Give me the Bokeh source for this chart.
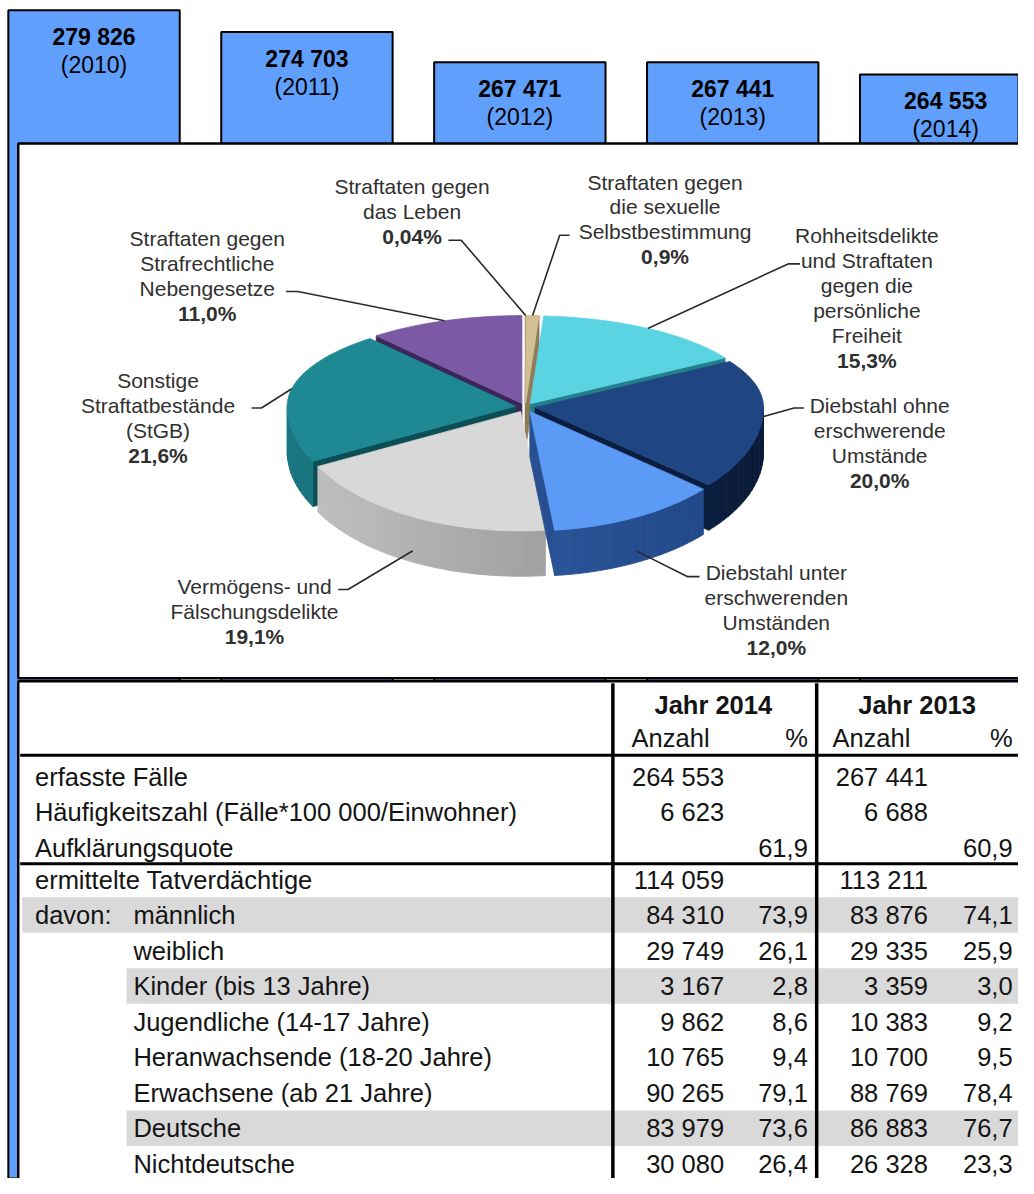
import math
from bokeh.plotting import figure
from bokeh.models import Range1d
from bokeh.core.properties import value
from bokeh.embed import file_html
from bokeh.resources import INLINE

# ---------------- data ----------------
years = [2010, 2011, 2012, 2013, 2014]
cases = [279826, 274703, 267471, 267441, 264553]

pie_names = [
    ["Straftaten gegen", "das Leben"],
    ["Straftaten gegen", "die sexuelle", "Selbstbestimmung"],
    ["Rohheitsdelikte", "und Straftaten", "gegen die", "persönliche", "Freiheit"],
    ["Diebstahl ohne", "erschwerende", "Umstände"],
    ["Diebstahl unter", "erschwerenden", "Umständen"],
    ["Vermögens- und", "Fälschungsdelikte"],
    ["Sonstige", "Straftatbestände", "(StGB)"],
    ["Straftaten gegen", "Strafrechtliche", "Nebengesetze"],
]
pie_shares = [0.04, 0.9, 15.3, 20.0, 12.0, 19.1, 21.6, 11.0]

table_years = ["Jahr 2014", "Jahr 2013"]
row_labels = ["erfasste Fälle", "Häufigkeitszahl (Fälle*100 000/Einwohner)", "Aufklärungsquote",
              "ermittelte Tatverdächtige", "männlich", "weiblich", "Kinder (bis 13 Jahre)",
              "Jugendliche (14-17 Jahre)", "Heranwachsende (18-20 Jahre)",
              "Erwachsene (ab 21 Jahre)", "Deutsche", "Nichtdeutsche"]
count_2014 = [264553, 6623, None, 114059, 84310, 29749, 3167, 9862, 10765, 90265, 83979, 30080]
pct_2014 = [None, None, 61.9, None, 73.9, 26.1, 2.8, 8.6, 9.4, 79.1, 73.6, 26.4]
count_2013 = [267441, 6688, None, 113211, 83876, 29335, 3359, 10383, 10700, 88769, 86883, 26328]
pct_2013 = [None, None, 60.9, None, 74.1, 25.9, 3.0, 9.2, 9.5, 78.4, 76.7, 23.3]


def fmt_int(v):
    return "" if v is None else f"{v:,}".replace(",", " ")


def fmt_pct(v):
    return "" if v is None else f"{v:.1f}".replace(".", ",")


def fmt_share(v):
    return (f"{v:.2f}" if v < 0.1 else f"{v:.1f}").replace(".", ",") + "%"


# ---------------- layout / style ----------------
FONT = value("Liberation Sans")
X0, X1, Y0, Y1 = 0, 1034, 0, 1194
p = figure(width=1018, height=1178, x_range=Range1d(X0, X1), y_range=Range1d(Y1, Y0),
           output_backend="svg", toolbar_location=None, min_border=0,
           x_axis_location=None, y_axis_location=None, title=None)
p.grid.visible = False
p.outline_line_color = None
p.background_fill_color = "white"
p.border_fill_color = "white"

# bar chart scales (years across, case counts up)
BAR_SPACING, BAR_FIRST_CENTER, BAR_W = 216.25, 95.0, 0.805
PX_PER_CASE, TOP_PX = 0.004256, 10.0
yr0 = years[0] - (BAR_FIRST_CENTER - X0) / BAR_SPACING
p.extra_x_ranges = {"years": Range1d(yr0, yr0 + (X1 - X0) / BAR_SPACING)}
cmax = max(cases)
c_top = cmax + (TOP_PX - Y0) / PX_PER_CASE
c_bot = cmax - (Y1 - TOP_PX) / PX_PER_CASE
p.extra_y_ranges = {"cases": Range1d(c_bot, c_top)}

p.vbar(x=years, top=cases, bottom=c_bot, width=BAR_W, x_range_name="years", y_range_name="cases",
       fill_color="#619ffd", line_color="black", line_width=2)
p.text(x=years, y=cases, text=[fmt_int(c) for c in cases], x_range_name="years", y_range_name="cases",
       y_offset=27, text_font=FONT, text_font_size="23px", text_font_style="bold",
       text_align="center", text_baseline="middle", text_color="black")
p.text(x=years, y=cases, text=[f"({y})" for y in years], x_range_name="years", y_range_name="cases",
       y_offset=55, text_font=FONT, text_font_size="23px",
       text_align="center", text_baseline="middle", text_color="black")

# panels
p.quad(left=[18, 18], right=[1045, 1045], top=[145, 690], bottom=[687, 1205],
       fill_color="white", line_color="black", line_width=2.5)

# ---------------- 3D pie ----------------
CX, CY, RX, RYB, RYF, DEPTH, EXPL = 533, 412, 232, 89, 121, 46, 10
pie_colors = [  # top, wall light, wall dark, radial face
    ("#9c8a62", "#7a6b49", "#5f533a", "#5a4f36"),
    ("#d3bf95", "#b09c72", "#8f7d58", "#8f7d58"),
    ("#5ad3e3", "#34a3ae", "#23808a", "#23808a"),
    ("#1f4682", "#15356a", "#0a1a38", "#0b1e40"),
    ("#5b9bf6", "#3666b0", "#1f4584", "#274f91"),
    ("#d8d8d8", "#c2c2c2", "#858585", "#9a9a9a"),
    ("#1e8893", "#197680", "#0f5a62", "#0c4e55"),
    ("#7c59a4", "#553c7e", "#3f2a5f", "#3a2657"),
]


def ry(t):
    return RYB if math.cos(t) > 0 else RYF


def rim(ax, ay, t):
    return ax + RX * math.sin(t), ay - ry(t) * math.cos(t)


def mix(c1, c2, f):
    a = [int(c1[i:i + 2], 16) for i in (1, 3, 5)]
    b = [int(c2[i:i + 2], 16) for i in (1, 3, 5)]
    return "#%02x%02x%02x" % tuple(round(a[k] + (b[k] - a[k]) * f) for k in range(3))


total = sum(pie_shares)
spans = []
acc = 0.0
for s in pie_shares:
    d = s / total * 2 * math.pi
    spans.append((acc, acc + d))
    acc += d

info = []
for i, (a0, a1) in enumerate(spans):
    mid = (a0 + a1) / 2
    ax = CX + EXPL * math.sin(mid)
    ay = CY - EXPL * math.cos(mid) * ry(mid) / RX
    info.append((a0, a1, mid, ax, ay))

pxs, pys, pcol = [], [], []
order = sorted(range(len(spans)), key=lambda i: -math.cos(info[i][2]))
for i in order:
    a0, a1, mid, ax, ay = info[i]
    top_c, wl, wd, rc = pie_colors[i]
    # radial faces
    for a, vis in ((a0, math.sin(a0) < 0), (a1, math.sin(a1) > 0)):
        if vis:
            rx_, ry_ = rim(ax, ay, a)
            pxs.append([ax, rx_, rx_, ax])
            pys.append([ay, ry_, ry_ + DEPTH, ay + DEPTH])
            pcol.append(rc)
    # outer wall (front half only)
    lo, hi = max(a0, math.pi / 2), min(a1, 3 * math.pi / 2)
    if hi > lo:
        n = max(1, int((hi - lo) / math.radians(2)))
        for k in range(n):
            t1 = lo + (hi - lo) * k / n
            t2 = lo + (hi - lo) * (k + 1) / n
            x1, y1 = rim(ax, ay, t1)
            x2, y2 = rim(ax, ay, t2)
            pxs.append([x1, x2, x2, x1])
            pys.append([y1, y2, y2 + DEPTH, y1 + DEPTH])
            f = (math.sin((t1 + t2) / 2) + 1) / 2
            pcol.append(mix(wl, wd, f))
    # top face
    n = max(2, int((a1 - a0) / math.radians(1)) + 2)
    pts = [rim(ax, ay, a0 + (a1 - a0) * k / (n - 1)) for k in range(n)]
    pxs.append([ax] + [q[0] for q in pts])
    pys.append([ay] + [q[1] for q in pts])
    pcol.append(top_c)

p.patches(xs=pxs, ys=pys, fill_color=pcol, line_color=pcol, line_width=0.8)

# labels: (center x, first line y, text-end x, elbow x, elbow y)
label_layout = [
    (418, 189, 455, 468, 243),
    (675, 184, 578, 568, 238),
    (880, 238, 812, 800, 267),
    (893, 411, 816, 806, 413),
    (788, 580, 710, 698, 584),
    (258, 594, 343, 353, 597),
    (160, 385, 255, 265, 413),
    (210, 241, 290, 302, 295),
]
LS = 25.3
lx, ly, lt, bx, by, bt = [], [], [], [], [], []
lead_x, lead_y = [], []
for i, names in enumerate(pie_names):
    cxl, fy, tx, ex, ey = label_layout[i]
    for k, line in enumerate(names):
        lx.append(cxl); ly.append(fy + k * LS); lt.append(line)
    bx.append(cxl); by.append(fy + len(names) * LS); bt.append(fmt_share(pie_shares[i]))
    a0, a1, mid, ax, ay = info[i]
    axp, ayp = rim(ax, ay, mid)
    if math.cos(mid) < -0.3:
        ayp += DEPTH * 0.75
    lead_x.append([tx, ex, axp])
    lead_y.append([ey, ey, ayp])

p.multi_line(xs=lead_x, ys=lead_y, line_color="#2a2a2a", line_width=1.6)
p.text(x=lx, y=ly, text=lt, text_font=FONT, text_font_size="21px", text_color="#303030",
       text_align="center", text_baseline="middle")
p.text(x=bx, y=by, text=bt, text_font=FONT, text_font_size="21px", text_font_style="bold",
       text_color="#303030", text_align="center", text_baseline="middle")

# ---------------- table ----------------
ROW_H = 36
row_y = [787 + ROW_H * i if i < 3 else 891 + ROW_H * (i - 3) for i in range(len(row_labels))]
shade_left = {4: 22, 6: 128, 10: 128}
p.quad(left=[shade_left[i] for i in shade_left], right=[1045] * len(shade_left),
       top=[row_y[i] - ROW_H / 2 for i in shade_left], bottom=[row_y[i] + ROW_H / 2 for i in shade_left],
       fill_color="#d9d9d9", line_color=None)

p.segment(x0=[20, 20], x1=[1045, 1045], y0=[765, 875], y1=[765, 875], line_color="black", line_width=3)
p.segment(x0=[622, 829], x1=[622, 829], y0=[692, 692], y1=[1205, 1205], line_color="black", line_width=3.5)

TXT = "#141414"
TS = "25.5px"
p.text(x=[724, 931], y=[714, 714], text=table_years, text_font=FONT, text_font_size=TS,
       text_font_style="bold", text_align="center", text_baseline="middle", text_color=TXT)
p.text(x=[641, 845], y=[748, 748], text=["Anzahl", "Anzahl"], text_font=FONT, text_font_size=TS,
       text_align="left", text_baseline="middle", text_color=TXT)
p.text(x=[820, 1028], y=[748, 748], text=["%", "%"], text_font=FONT, text_font_size=TS,
       text_align="right", text_baseline="middle", text_color=TXT)

label_x = [35 if i < 4 else 135 for i in range(len(row_labels))]
p.text(x=label_x, y=row_y, text=row_labels, text_font=FONT, text_font_size=TS,
       text_align="left", text_baseline="middle", text_color=TXT)
p.text(x=[35], y=[row_y[4]], text=["davon:"], text_font=FONT, text_font_size=TS,
       text_align="left", text_baseline="middle", text_color=TXT)

col_right = [735, 820, 942, 1028]
cols = [[fmt_int(v) for v in count_2014], [fmt_pct(v) for v in pct_2014],
        [fmt_int(v) for v in count_2013], [fmt_pct(v) for v in pct_2013]]
for xr, col in zip(col_right, cols):
    p.text(x=[xr] * len(col), y=row_y, text=col, text_font=FONT, text_font_size=TS,
           text_align="right", text_baseline="middle", text_color=TXT)

open("out.html", "w").write(file_html(p, INLINE))
